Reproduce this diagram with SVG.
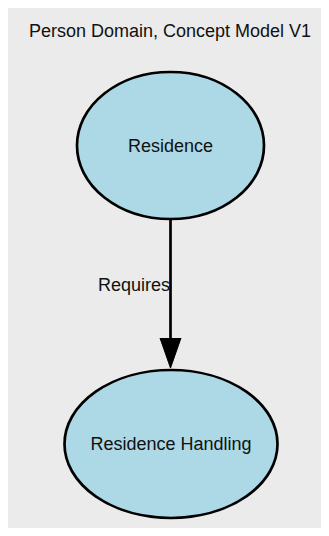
<svg xmlns="http://www.w3.org/2000/svg" width="329" height="536" viewBox="0 0 329 536">
<style>
text{font-family:"Liberation Sans",Arial,sans-serif;font-size:18px;fill:#111}
.node ellipse{fill:#add8e6;stroke:#000;stroke-width:2.7}
.edge line{stroke:#000;stroke-width:2.7}
</style>
<defs>
<marker id="arr" markerUnits="userSpaceOnUse" markerWidth="32" markerHeight="23" refX="0.5" refY="11.5" orient="auto" viewBox="0 0 32 23">
<path d="M0.5,1 L30.5,11.5 L0.5,22 Z" fill="#000" stroke="#000" stroke-width="1"/>
</marker>
</defs>
<rect x="8" y="8" width="313" height="520" fill="#ebebeb"/>
<text x="170" y="37" text-anchor="middle">Person Domain, Concept Model V1</text>
<g id="connectors" class="edge">
<line x1="170.5" y1="219" x2="170.5" y2="338" marker-end="url(#arr)"/>
<text x="134" y="291" text-anchor="middle">Requires</text>
</g>
<g id="residence" class="node">
<ellipse cx="170.5" cy="145.5" rx="93.5" ry="73.5"/>
<text x="170.5" y="152" text-anchor="middle">Residence</text>
</g>
<g id="residence-handling" class="node">
<ellipse cx="171" cy="444" rx="106.5" ry="74"/>
<text x="171" y="449.5" text-anchor="middle">Residence Handling</text>
</g>
</svg>
